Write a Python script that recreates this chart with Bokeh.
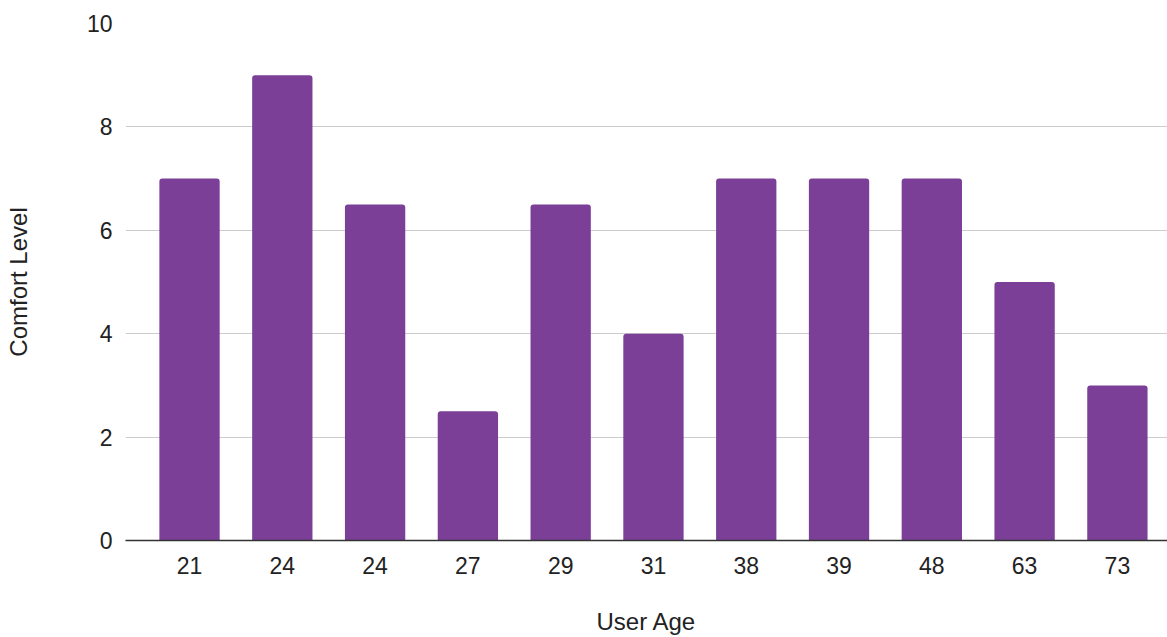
from bokeh.plotting import figure
from bokeh.models import Range1d, FixedTicker, ColumnDataSource
from bokeh.embed import file_html
from bokeh.resources import INLINE

# Survey results: comfort level per user, labelled by the user's age
ages = ["21", "24", "24", "27", "29", "31", "38", "39", "48", "63", "73"]
comfort = [7, 9, 6.5, 2.5, 6.5, 4, 7, 7, 7, 5, 3]
y_ticks = [0, 2, 4, 6, 8, 10]

positions = list(range(len(ages)))
source = ColumnDataSource(data=dict(pos=positions, comfort=comfort, age=ages))

FONT = "Liberation Sans"
BAR = "#7b3f98"
TEXT = "#222222"

p = figure(
    width=1167, height=637,
    output_backend="svg", toolbar_location=None,
    x_range=Range1d(-0.69, 10.54), y_range=Range1d(0, 10),
    min_border_left=125, min_border_right=0, min_border_top=23, min_border_bottom=97,
)
p.outline_line_color = None
p.background_fill_color = "white"

p.vbar(x="pos", top="comfort", width=0.65, source=source,
       fill_color=BAR, line_color=None, border_radius=(3, 3, 0, 0))

# x axis: one tick per respondent, labelled with the age
p.xaxis.ticker = FixedTicker(ticks=positions)
p.xaxis.major_label_overrides = {i: a for i, a in enumerate(ages)}
p.xaxis.axis_line_color = "#333333"
p.xaxis.axis_line_width = 1.5
p.xaxis.major_tick_line_color = None
p.xaxis.minor_tick_line_color = None
p.xaxis.major_label_standoff = 10
p.xaxis.axis_label = "User Age"
p.xaxis.axis_label_standoff = 31
p.xgrid.grid_line_color = None

# y axis
p.yaxis.ticker = FixedTicker(ticks=y_ticks)
p.yaxis.axis_line_color = None
p.yaxis.major_tick_line_color = None
p.yaxis.minor_tick_line_color = None
p.yaxis.major_label_standoff = 7
p.yaxis.axis_label = "Comfort Level"
p.yaxis.axis_label_standoff = 52
p.ygrid.ticker = FixedTicker(ticks=y_ticks)
p.ygrid.grid_line_color = "#cccccc"
p.ygrid.grid_line_width = 1

for ax in (p.xaxis, p.yaxis):
    ax.major_label_text_font = FONT
    ax.major_label_text_font_size = "23px"
    ax.major_label_text_color = TEXT
    ax.axis_label_text_font = FONT
    ax.axis_label_text_font_size = "24px"
    ax.axis_label_text_font_style = "normal"
    ax.axis_label_text_color = TEXT

open("out.html", "w").write(file_html(p, INLINE))
